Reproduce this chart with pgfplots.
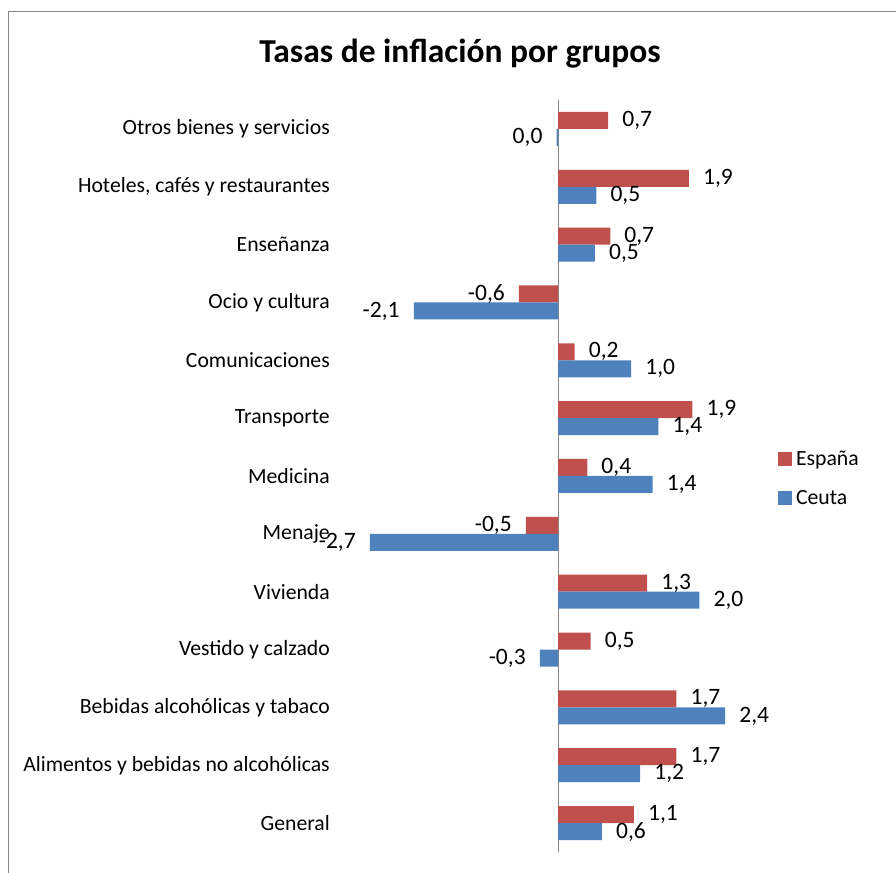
\documentclass[border=0pt]{standalone}
\usepackage{pgfplots}
\usepackage{pgfplotstable}
\pgfplotsset{compat=1.18}
\usepackage{fontspec}
\setmainfont{Carlito}
\definecolor{espana}{HTML}{C0504D}
\definecolor{ceuta}{HTML}{4F81BD}
\definecolor{frame}{HTML}{868686}
\newcommand{\lbl}{\fontsize{21.7}{26}\selectfont}
\newcommand{\dlbl}{\fontsize{23.5}{28}\selectfont}

\pgfplotstableread{
y x lab
0 1.09 1,1
1 1.70 1,7
2 1.70 1,7
3 0.47 0,5
4 1.28 1,3
5 -0.46 -0,5
6 0.42 0,4
7 1.93 1,9
8 0.24 0,2
9 -0.56 -0,6
10 0.75 0,7
11 1.88 1,9
12 0.72 0,7
}\espana

\pgfplotstableread{
y x lab
0 0.63 0,6
1 1.18 1,2
2 2.40 2,4
3 -0.26 -0,3
4 2.03 2,0
5 -2.70 -2,7
6 1.36 1,4
7 1.44 1,4
8 1.05 1,0
9 -2.07 -2,1
10 0.53 0,5
11 0.55 0,5
12 -0.02 0,0
}\ceuta

\pgfplotsset{
  mylabels/.style={
    point meta=explicit symbolic,
    visualization depends on={rawx \as \xval},
    nodes near coords,
    every node near coord/.append style={font=\dlbl, inner xsep=14pt, inner ysep=0pt, text=black,
      /utils/exec={\pgfmathparse{\xval<0}\ifnum\pgfmathresult>0 \def\myanc{east}\else\def\myanc{west}\fi},
      anchor=\myanc},
  }
}

\begin{document}
\begin{tikzpicture}[x=1pt,y=1pt]
\useasboundingbox (0,0) rectangle (896,872);
\draw[frame, line width=1pt] (8,-5) -- (8,860) -- (905,860);
\node[anchor=base, font=\bfseries\fontsize{33.5}{40}\selectfont] at (460,809) {Tasas de inflación por grupos};
\begin{axis}[
  at={(349pt,20pt)}, anchor=south west,
  scale only axis, width=418pt, height=752pt,
  xbar, bar width=17pt,
  xmin=-3, xmax=3, ymin=-0.5, ymax=12.5,
  xtick=\empty,
  extra x ticks={0}, extra x tick labels={},
  extra x tick style={grid=major, major grid style={frame, line width=1pt}, major tick length=0pt},
  ytick={0,...,12},
  yticklabels={General, Alimentos y bebidas no alcohólicas, Bebidas alcohólicas y tabaco, Vestido y calzado, Vivienda, Menaje, Medicina, Transporte, Comunicaciones, Ocio y cultura, Enseñanza, {Hoteles, cafés y restaurantes}, Otros bienes y servicios},
  yticklabel style={font=\lbl, anchor=east, inner xsep=0pt, xshift=-19pt},
  major tick length=0pt,
  axis line style={draw=none},
  legend style={at={(1.026,0.497)}, anchor=west, draw=none, fill=none, font=\lbl,
    row sep=23pt, inner xsep=0pt, inner ysep=0pt,
    nodes={inner xsep=4pt, inner ysep=0pt}},
  legend cell align=left,
  legend image code/.code={\fill[#1] (0pt,-7pt) rectangle (14pt,7pt);},
]
\addplot[fill=espana, draw=none, bar shift=8.5pt, mylabels] table[x=x, y=y, meta=lab] {\espana};
\addlegendentry{España}
\addplot[fill=ceuta, draw=none, bar shift=-8.5pt, mylabels] table[x=x, y=y, meta=lab] {\ceuta};
\addlegendentry{Ceuta}
\end{axis}
\end{tikzpicture}
\end{document}
